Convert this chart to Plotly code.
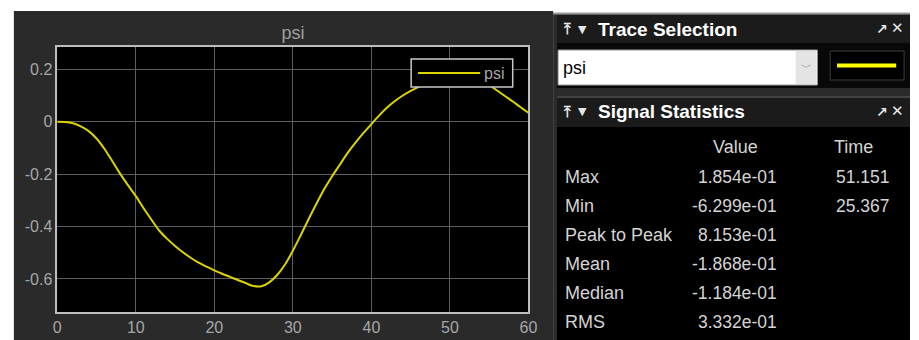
import plotly.graph_objects as go

# ---- signal: psi sampled once per second over the 60 s run ----
time_s = list(range(0, 61))
psi = [
    0.000, -0.001, -0.006, -0.018, -0.036, -0.064, -0.103, -0.150, -0.198, -0.242,
    -0.284, -0.330, -0.374, -0.416, -0.447, -0.474, -0.498, -0.519, -0.538, -0.553,
    -0.567, -0.580, -0.592, -0.604, -0.616, -0.627, -0.628, -0.613, -0.585, -0.545,
    -0.492, -0.433, -0.372, -0.313, -0.257, -0.208, -0.163, -0.118, -0.079, -0.043,
    -0.009, 0.024, 0.054, 0.079, 0.100, 0.118, 0.133, 0.148, 0.160, 0.171,
    0.180, 0.1853, 0.184, 0.175, 0.158, 0.140, 0.119, 0.098, 0.077, 0.055,
    0.034,
]

x_ticks = [0, 10, 20, 30, 40, 50, 60]
x_tick_labels = ["0", "10", "20", "30", "40", "50", "60"]
y_ticks = [-0.6, -0.4, -0.2, 0.0, 0.2]
y_tick_labels = ["-0.6", "-0.4", "-0.2", "0", "0.2"]

# ---- statistics table ----
stat_names = ["Max", "Min", "Peak to Peak", "Mean", "Median", "RMS"]
stat_values = ["1.854e-01", "-6.299e-01", "8.153e-01", "-1.868e-01", "-1.184e-01", "3.332e-01"]
stat_times = ["51.151", "25.367", "", "", "", ""]

W, H = 919, 340
TRACE_COLOR = "#dcd400"


def fx(px):
    return px / W


def fy(py):
    return 1 - py / H


def rect(x0, y0, x1, y1, fill, line=None, lw=0, layer="below"):
    return dict(
        type="rect", xref="paper", yref="paper", layer=layer,
        x0=fx(x0), x1=fx(x1), y0=fy(y1), y1=fy(y0),
        fillcolor=fill, line=dict(color=line or fill, width=lw),
    )


def hline(x0, x1, y, color, lw=1, layer="below"):
    return dict(
        type="line", xref="paper", yref="paper", layer=layer,
        x0=fx(x0), x1=fx(x1), y0=fy(y), y1=fy(y), line=dict(color=color, width=lw),
    )


def text(x, y, s, size=17, color="#d4d4d4", xanchor="left", bold=False, family="Arial"):
    return dict(
        xref="paper", yref="paper", x=fx(x), y=fy(y), text=f"<b>{s}</b>" if bold else s,
        showarrow=False, xanchor=xanchor, yanchor="middle", borderpad=0,
        font=dict(size=size, color=color, family=family),
    )


fig = go.Figure()
fig.add_trace(go.Scatter(
    x=time_s, y=psi, mode="lines", name="psi", showlegend=False,
    line=dict(color=TRACE_COLOR, width=2, shape="spline", smoothing=0.8),
))

shapes = [
    # scope window
    rect(10, 11, 557, 340, "#2a2a2a"),
    rect(54, 47, 532, 312, "#000000"),
    # scope legend box (drawn over the trace)
    rect(413, 59, 516, 87, "#000000", "#c8c8c8", 1.5, layer="above"),
    hline(420, 483, 73, TRACE_COLOR, 2, layer="above"),
    # side panel container
    rect(557, 13, 919, 340, "#2b2b2b"),
    hline(557, 919, 13.5, "#9a9a9a", 2),
    # Trace Selection header and row
    rect(561, 15, 919, 43, "#1b1b1b"),
    rect(561, 43, 919, 88, "#080808"),
    rect(562, 50, 825, 85, "#ffffff", "#9c9c9c", 1),
    rect(803, 51, 824, 84, "#e4e4e4"),
    rect(838, 51, 913, 80, "#000000", "#3c3c3c", 1),
    hline(845, 905, 65.5, "#ffff00", 4),
    # Signal Statistics header and table
    hline(561, 919, 97, "#5a5a5a", 1),
    rect(561, 98, 919, 127, "#1b1b1b"),
    rect(561, 127, 919, 340, "#000000"),
]

annotations = [
    # scope legend label
    text(486, 73, "psi", size=16, color="#a6a6a6"),
    # panel headers
    text(566, 29, "⤒", size=15, color="#e8e8e8", family="DejaVu Sans", bold=True),
    text(581, 29, "▼", size=11, color="#e8e8e8", family="DejaVu Sans"),
    text(602, 29, "Trace Selection", size=19, color="#ffffff", bold=True),
    text(884, 29, "↗", size=14, color="#e8e8e8", family="DejaVu Sans", bold=True),
    text(899, 28, "✕", size=15, color="#e8e8e8", family="DejaVu Sans", bold=True),
    text(566, 112, "⤒", size=15, color="#e8e8e8", family="DejaVu Sans", bold=True),
    text(581, 112, "▼", size=11, color="#e8e8e8", family="DejaVu Sans"),
    text(602, 112, "Signal Statistics", size=19, color="#ffffff", bold=True),
    text(884, 112, "↗", size=14, color="#e8e8e8", family="DejaVu Sans", bold=True),
    text(899, 111, "✕", size=15, color="#e8e8e8", family="DejaVu Sans", bold=True),
    # dropdown contents
    text(566, 68, "psi", size=18, color="#000000"),
    text(814, 68, "﹀", size=11, color="#8a8a8a", xanchor="center", family="DejaVu Sans"),
    # table header
    text(742, 147, "Value", size=18, xanchor="center"),
    text(862, 147, "Time", size=18, xanchor="center"),
]

row_y = [176.5, 205.5, 234.5, 263.5, 292.5, 321.5]
for yy, name, val, t in zip(row_y, stat_names, stat_values, stat_times):
    annotations.append(text(568, yy, name, size=18))
    annotations.append(text(785, yy, val, size=17.5, xanchor="right"))
    if t:
        annotations.append(text(843, yy, t, size=17.5))

fig.update_layout(
    width=W, height=H,
    margin=dict(l=0, r=0, t=0, b=0),
    paper_bgcolor="#ffffff",
    plot_bgcolor="rgba(0,0,0,0)",
    font=dict(family="Arial", color="#a6a6a6", size=16),
    title=dict(
        text="psi", x=fx(293), y=fy(33), xanchor="center", yanchor="middle",
        font=dict(size=18, color="#a0a0a0", family="Arial"),
    ),
    xaxis=dict(
        domain=[fx(54), fx(532)], range=[0, 60],
        tickvals=x_ticks, ticktext=x_tick_labels,
        showgrid=True, gridcolor="#5e5e5e", gridwidth=1, zeroline=False,
        showline=True, mirror=True, linecolor="#bdbdbd", linewidth=1.5,
        ticks="", tickfont=dict(size=16, color="#a6a6a6"),
    ),
    yaxis=dict(
        domain=[fy(312), fy(47)], range=[-0.726, 0.285],
        tickvals=y_ticks, ticktext=y_tick_labels,
        showgrid=True, gridcolor="#5e5e5e", gridwidth=1, zeroline=False,
        showline=True, mirror=True, linecolor="#bdbdbd", linewidth=1.5,
        ticks="", tickfont=dict(size=16, color="#a6a6a6"),
    ),
    showlegend=False,
    shapes=shapes,
    annotations=annotations,
)

fig.write_html("out.html")
